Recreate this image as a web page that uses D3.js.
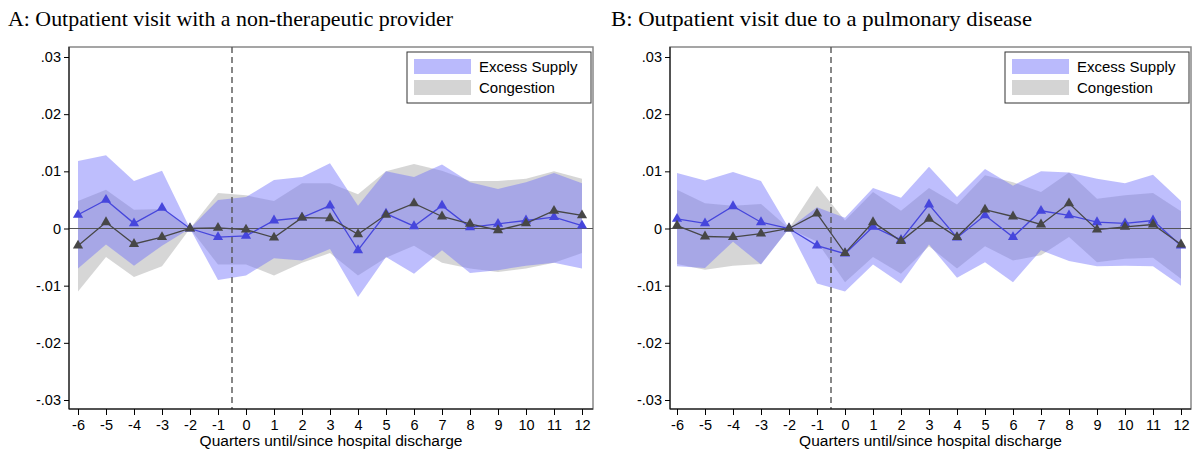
<!DOCTYPE html>
<html>
<head>
<meta charset="utf-8">
<script src="https://cdn.jsdelivr.net/npm/d3@7"></script>
<style>
body { margin: 0; background: #fff; }
text { font-family: "Liberation Sans", Arial, sans-serif; }
</style>
</head>
<body>
<svg id="chart" width="1194" height="449"></svg>
<script>
// quarters relative to discharge
var quarters = [-6,-5,-4,-3,-2,-1,0,1,2,3,4,5,6,7,8,9,10,11,12];

// panel A: non-therapeutic provider
var aSupply    = [.0024,.005,.0009,.0036,0,-.0015,-.0013,.0014,.0019,.004,-.0038,.0026,.0004,.004,.0002,.0008,.0014,.002,.0005];
var aSupplyHi  = [.0118,.0128,.0083,.0101,0,.005,.0055,.0085,.009,.0114,.004,.01,.009,.0112,.0081,.0069,.0081,.0097,.0079];
var aSupplyLo  = [-.007,-.0028,-.0065,-.003,0,-.009,-.0082,-.0052,-.0056,-.0036,-.012,-.005,-.0079,-.0038,-.0078,-.0073,-.0065,-.006,-.007];
var aCongest   = [-.003,.0011,-.0027,-.0015,0,.0001,-.0002,-.0016,.0019,.0018,-.001,.0024,.0044,.0021,.0008,-.0003,.0009,.0031,.0023];
var aCongestHi = [.0048,.0068,.0033,.0034,0,.0062,.0058,.0048,.0079,.0079,.006,.01,.0113,.0101,.0083,.0083,.0087,.01,.0087];
var aCongestLo = [-.011,-.005,-.0085,-.0066,0,-.0063,-.0063,-.0082,-.006,-.0043,-.0082,-.0051,-.003,-.006,-.007,-.0076,-.007,-.006,-.0043];

// panel B: pulmonary disease
var bSupply    = [.0017,.0009,.0039,.0011,0,-.003,-.0044,.0003,-.002,.0042,-.0016,.0023,-.0015,.0031,.0023,.0011,.0009,.0014,-.003];
var bSupplyHi  = [.0097,.0084,.0099,.0083,0,.0037,.0019,.0071,.0054,.0108,.0055,.0104,.0075,.01,.0098,.0087,.0079,.0094,.0048];
var bSupplyLo  = [-.0066,-.0069,-.0023,-.0063,0,-.0096,-.011,-.0063,-.0096,-.0028,-.0086,-.0059,-.0094,-.0038,-.0057,-.0066,-.0065,-.0066,-.01];
var bCongest   = [.0005,-.0014,-.0015,-.0009,0,.0026,-.0043,.0011,-.0022,.0017,-.0015,.0033,.0021,.0007,.0044,-.0002,.0003,.0007,-.0028];
var bCongestHi = [.0068,.0044,.004,.0043,0,.0075,.0014,.0064,.0031,.0071,.0042,.0093,.0081,.0064,.0098,.0052,.0058,.0062,.003];
var bCongestLo = [-.0062,-.0072,-.0065,-.0062,0,-.0023,-.0094,-.005,-.0079,-.0031,-.007,-.0031,-.0056,-.0047,-.0015,-.0059,-.0053,-.0051,-.0088];

var yTicks = [.03,.02,.01,0,-.01,-.02,-.03];
var yLabels = [".03",".02",".01","0","-.01","-.02","-.03"];

var svg = d3.select("#chart");

function drawPanel(opt) {

	var x = d3.scaleLinear().domain([-6, 12]).range([opt.x0, opt.x1]);
	var y = d3.scaleLinear().domain([.03, -.03]).range([57, 400]);
	var top = 47, bottom = 409;

	var g = svg.append("g");

	g.append("text")
		.attr("x", opt.titleX).attr("y", 26)
		.attr("textLength", opt.titleW).attr("lengthAdjust", "spacingAndGlyphs")
		.style("font-family", "'Liberation Serif', 'DejaVu Serif', serif")
		.style("font-size", "21px")
		.text(opt.title);

	// frame
	g.append("rect")
		.attr("x", opt.left).attr("y", top)
		.attr("width", opt.right - opt.left).attr("height", bottom - top)
		.attr("fill", "none").attr("stroke", "#888").attr("stroke-width", 1.5);

	function band(hi, lo, col) {
		var area = d3.area()
			.x(function(d, i) { return x(quarters[i]); })
			.y0(function(d, i) { return y(lo[i]); })
			.y1(function(d, i) { return y(hi[i]); });
		g.append("path").datum(hi).attr("d", area).attr("fill", col);
	}
	band(opt.cHi, opt.cLo, "rgba(165,165,165,0.45)");
	band(opt.sHi, opt.sLo, "rgba(110,110,250,0.45)");

	g.append("line")
		.attr("x1", opt.left).attr("x2", opt.right)
		.attr("y1", y(0)).attr("y2", y(0))
		.attr("stroke", "#555").attr("stroke-width", 1.2);

	g.append("line")
		.attr("x1", x(-0.5)).attr("x2", x(-0.5))
		.attr("y1", top).attr("y2", bottom)
		.attr("stroke", "#555").attr("stroke-width", 1.4)
		.attr("stroke-dasharray", "6,4");

	function series(vals, col) {
		var line = d3.line()
			.x(function(d, i) { return x(quarters[i]); })
			.y(function(d) { return y(d); });
		g.append("path").datum(vals).attr("d", line)
			.attr("fill", "none").attr("stroke", col).attr("stroke-width", 1.3);
		g.selectAll(null).data(vals).enter().append("path")
			.attr("d", d3.symbol().type(d3.symbolTriangle).size(45))
			.attr("transform", function(d, i) { return "translate(" + x(quarters[i]) + "," + y(d) + ")"; })
			.attr("fill", col);
	}
	series(opt.s, "#4646dc");
	series(opt.c, "#474747");

	// axes
	var yAxis = d3.axisLeft(y).tickValues(yTicks).tickSize(5)
		.tickFormat(function(d, i) { return yLabels[i]; });
	var ya = g.append("g").attr("transform", "translate(" + opt.left + ",0)").call(yAxis);
	ya.select(".domain").attr("d", "M0," + top + "V" + bottom);

	var xAxis = d3.axisBottom(x).tickValues(quarters).tickSize(6).tickFormat(function(d) { return String(d); });
	var xa = g.append("g").attr("transform", "translate(0," + bottom + ")").call(xAxis);
	xa.select(".domain").attr("d", "M" + opt.left + ",0H" + opt.right);
	xa.selectAll("text").attr("dy", "0.85em");

	[ya, xa].forEach(function(a) {
		a.selectAll("text").style("font-size", "14.5px").attr("fill", "#000");
		a.selectAll("line, .domain").attr("stroke", "#000");
	});

	g.append("text")
		.attr("x", (opt.left + opt.right) / 2 - 0).attr("y", 446)
		.attr("text-anchor", "middle").style("font-size", "15.5px")
		.text("Quarters until/since hospital discharge");

	// legend
	var lx = opt.right - 186, ly = 52;
	g.append("rect").attr("x", lx).attr("y", ly).attr("width", 184).attr("height", 51)
		.attr("fill", "#fff").attr("stroke", "#333").attr("stroke-width", 1);
	[["Excess Supply", "#babafc"], ["Congestion", "#d4d4d4"]].forEach(function(e, i) {
		g.append("rect").attr("x", lx + 7).attr("y", ly + 7 + i * 21)
			.attr("width", 57).attr("height", 15).attr("fill", e[1]);
		g.append("text").attr("x", lx + 72).attr("y", ly + 20 + i * 21)
			.style("font-size", "15px").text(e[0]);
	});
}

drawPanel({ title: "A: Outpatient visit with a non-therapeutic provider", titleX: 8, titleW: 445,
	left: 69, right: 593, x0: 78, x1: 582,
	s: aSupply, sHi: aSupplyHi, sLo: aSupplyLo, c: aCongest, cHi: aCongestHi, cLo: aCongestLo });

drawPanel({ title: "B: Outpatient visit due to a pulmonary disease", titleX: 611, titleW: 421,
	left: 670, right: 1191, x0: 677, x1: 1181,
	s: bSupply, sHi: bSupplyHi, sLo: bSupplyLo, c: bCongest, cHi: bCongestHi, cLo: bCongestLo });
</script>
</body>
</html>
